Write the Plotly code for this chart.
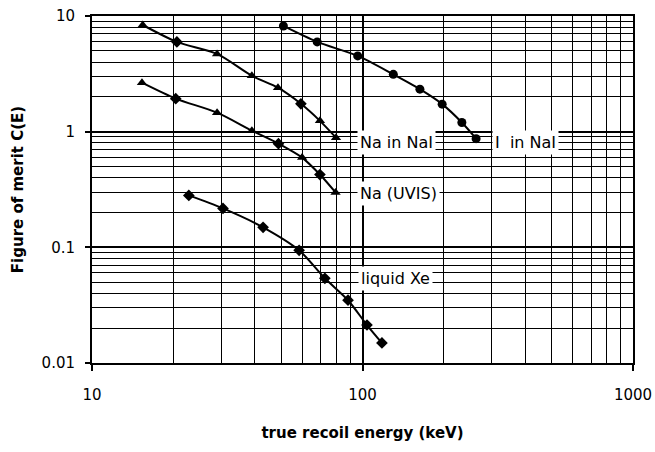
import math
import plotly.graph_objects as go

# ---- data ----
na_nai_x = [15.4, 20.6, 29.0, 39.0, 48.7, 59.2, 69.6, 79.8]
na_nai_y = [8.36, 5.97, 4.70, 3.04, 2.40, 1.74, 1.24, 0.887]

na_uvis_x = [15.3, 20.4, 29.0, 39.0, 48.9, 59.8, 69.6, 79.5]
na_uvis_y = [2.65, 1.93, 1.46, 1.02, 0.788, 0.597, 0.426, 0.298]

i_nai_x = [51, 68, 96, 130, 163, 197, 233, 263]
i_nai_y = [8.2, 5.97, 4.52, 3.13, 2.33, 1.73, 1.20, 0.87]

xe_x = [22.8, 30.5, 42.9, 58.3, 72.6, 88.4, 103.9, 118]
xe_y = [0.281, 0.217, 0.149, 0.0942, 0.054, 0.0349, 0.0213, 0.0149]

labels = ["Na in NaI", "I  in NaI", "Na (UVIS)", "liquid Xe"]
label_x = [95.5, 301, 95.5, 96.5]
label_y = [0.81, 0.81, 0.292, 0.054]

x_ticks = [10, 100, 1000]
y_ticks = [0.01, 0.1, 1, 10]
y_tick_text = ["0.01", "0.1", "1", "10"]

FONT = "DejaVu Sans"

fig = go.Figure()

def add_series(x, y, symbols, size):
    fig.add_trace(go.Scatter(
        x=x, y=y, mode="lines+markers",
        line=dict(color="black", width=2, shape="spline", smoothing=0.8),
        marker=dict(color="black", size=size, symbol=symbols),
        showlegend=False,
    ))

tri_mix1 = ["triangle-up", "diamond", "triangle-up", "triangle-up", "triangle-up",
            "diamond", "triangle-up", "triangle-up"]
tri_mix2 = ["triangle-up", "diamond", "triangle-up", "triangle-up", "diamond",
            "triangle-up", "diamond", "triangle-up"]

add_series(na_nai_x, na_nai_y, tri_mix1, 9)
add_series(na_uvis_x, na_uvis_y, tri_mix2, 9)
add_series(i_nai_x, i_nai_y, "circle", 9)
add_series(xe_x, xe_y, "diamond", 9)

for t, lx, ly in zip(labels, label_x, label_y):
    fig.add_annotation(
        x=math.log10(lx), y=math.log10(ly), xref="x", yref="y", text=t,
        showarrow=False, xanchor="left", yanchor="middle",
        font=dict(family=FONT, size=16, color="black"),
        bgcolor="white", borderpad=2,
    )

fig.update_layout(
    width=655, height=452,
    margin=dict(l=92, r=22, t=16, b=89),
    paper_bgcolor="white", plot_bgcolor="white",
    font=dict(family=FONT, color="black"),
    xaxis=dict(
        type="log", range=[1, 3], automargin=False,
        tickvals=x_ticks, ticktext=[str(v) for v in x_ticks],
        ticks="outside", ticklen=6, tickcolor="black", tickwidth=1.5,
        ticklabelstandoff=11,
        tickfont=dict(family=FONT, size=15),
        showgrid=True, gridcolor="black", gridwidth=1.5,
        minor=dict(dtick="D1", showgrid=True, gridcolor="black", gridwidth=1.3, ticks=""),
        showline=True, linecolor="black", linewidth=2, mirror=True,
        zeroline=False,
        title=dict(text="<b>true recoil energy (keV)</b>",
                   font=dict(family=FONT, size=15), standoff=24),
    ),
    yaxis=dict(
        type="log", range=[-2, 1], automargin=False,
        tickvals=y_ticks, ticktext=y_tick_text,
        ticks="outside", ticklen=5, tickcolor="black", tickwidth=1.5,
        ticklabelstandoff=7,
        tickfont=dict(family=FONT, size=15),
        showgrid=True, gridcolor="black", gridwidth=1.5,
        minor=dict(dtick="D1", showgrid=True, gridcolor="black", gridwidth=1.3, ticks=""),
        showline=True, linecolor="black", linewidth=2, mirror=True,
        zeroline=False,
        title=dict(text="<b>Figure of merit C(E)</b>",
                   font=dict(family=FONT, size=15), standoff=14),
    ),
)

fig.write_html("out.html")
